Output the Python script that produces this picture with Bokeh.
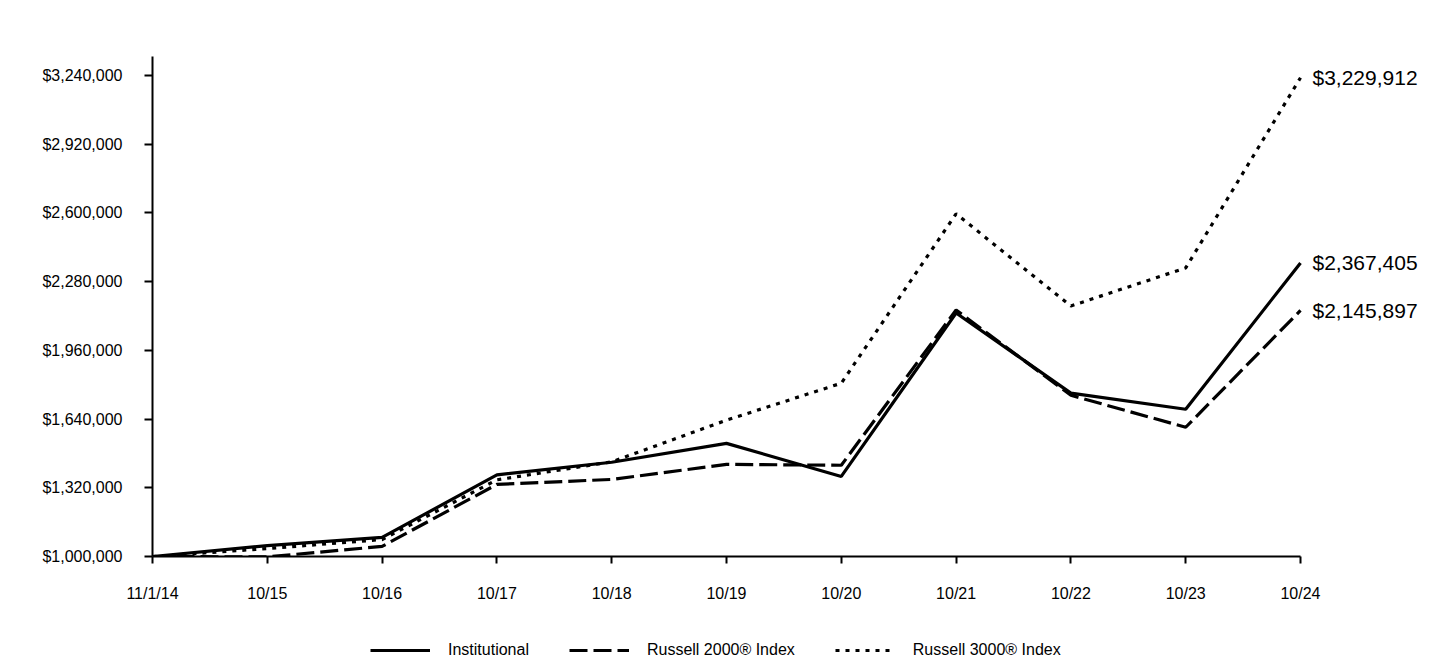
from bokeh.plotting import figure
from bokeh.layouts import column
from bokeh.core.properties import value
from bokeh.models import (Range1d, FixedTicker, Legend, LegendItem, LabelSet,
                          ColumnDataSource, NumeralTickFormatter)
from bokeh.embed import file_html
from bokeh.resources import INLINE

x_labels = ["11/1/14", "10/15", "10/16", "10/17", "10/18", "10/19",
            "10/20", "10/21", "10/22", "10/23", "10/24"]
x_vals = list(range(len(x_labels)))

institutional = [1000000, 1051000, 1089000, 1380000, 1439000, 1527000,
                 1373000, 2134000, 1761000, 1686000, 2367405]
russell_2000 = [1000000, 998000, 1047000, 1336000, 1359000, 1429000,
                1425000, 2148000, 1751000, 1602000, 2145897]
russell_3000 = [1000000, 1037000, 1079000, 1357000, 1441000, 1635000,
                1807000, 2596000, 2167000, 2344000, 3229912]

y_ticks = [1000000, 1320000, 1640000, 1960000, 2280000, 2600000, 2920000, 3240000]
end_labels = ["$3,229,912", "$2,367,405", "$2,145,897"]
end_values = [russell_3000[-1], institutional[-1], russell_2000[-1]]
series_names = ["Institutional", "Russell 2000® Index", "Russell 3000® Index"]

FONT = "Liberation Sans"
STYLES = [dict(line_color="black", line_width=3.2),
          dict(line_color="black", line_width=3.2, line_dash="18 6"),
          dict(line_color="black", line_width=3.2, line_dash="4 6")]
SERIES = [institutional, russell_2000, russell_3000]

# plot frame: left 152 px, x=10 at 1300 px, extended right so end labels are not clipped
px_per_unit = (1300 - 152) / 10.0
x_end = (1440 - 152) / px_per_unit

p = figure(width=1440, height=620, output_backend="svg", toolbar_location=None,
           x_range=Range1d(0, x_end), y_range=Range1d(1000000, 3328800),
           min_border_left=152, min_border_right=0, min_border_top=56,
           min_border_bottom=64)
p.outline_line_color = None
p.xgrid.visible = False
p.ygrid.visible = False
p.background_fill_color = "white"
p.border_fill_color = "white"

for vals, st in zip(SERIES, STYLES):
    p.line(x_vals, vals, **st)

src = ColumnDataSource(dict(x=[x_vals[-1]] * 3, y=end_values, t=end_labels))
p.add_layout(LabelSet(x="x", y="y", text="t", source=src, x_offset=12,
                      text_baseline="middle", text_font=value(FONT),
                      text_font_size=value("21px"), text_color="black"))

# axes
p.xaxis.ticker = FixedTicker(ticks=x_vals)
p.xaxis.major_label_overrides = {i: s for i, s in enumerate(x_labels)}
p.xaxis.bounds = (0, 10)
p.yaxis.ticker = FixedTicker(ticks=y_ticks)
p.yaxis.formatter = NumeralTickFormatter(format="$0,0")
for ax in (p.xaxis[0], p.yaxis[0]):
    ax.axis_line_width = 2
    ax.axis_line_color = "black"
    ax.major_tick_line_width = 2
    ax.major_tick_line_color = "black"
    ax.major_tick_in = 0
    ax.minor_tick_line_color = None
    ax.major_label_text_font = FONT
    ax.major_label_text_font_size = "16px"
    ax.major_label_text_color = "black"
p.xaxis.major_tick_out = 7
p.xaxis.major_label_standoff = 21
p.yaxis.major_tick_out = 8
p.yaxis.major_label_standoff = 22

# legend in its own strip below the chart (series drawn out of view, only legend shows)
lg = figure(width=1440, height=40, output_backend="svg", toolbar_location=None,
            x_range=Range1d(0, 10), y_range=Range1d(-3, -2),
            min_border_left=152, min_border_right=0, min_border_top=0, min_border_bottom=0)
lg.outline_line_color = None
lg.axis.visible = False
lg.grid.visible = False
items = []
for name, vals, st in zip(series_names, SERIES, STYLES):
    r = lg.line(x_vals, vals, **st)
    items.append(LegendItem(label=name, renderers=[r]))
legend = Legend(items=items, orientation="horizontal", location=(218, 0),
                glyph_width=60, label_standoff=18, spacing=40,
                label_text_font=FONT, label_text_font_size="16px",
                label_text_color="black",
                border_line_color=None, background_fill_alpha=0,
                margin=0, padding=0)
lg.add_layout(legend)

layout = column(p, lg, spacing=0)
open("out.html", "w").write(file_html(layout, INLINE))
